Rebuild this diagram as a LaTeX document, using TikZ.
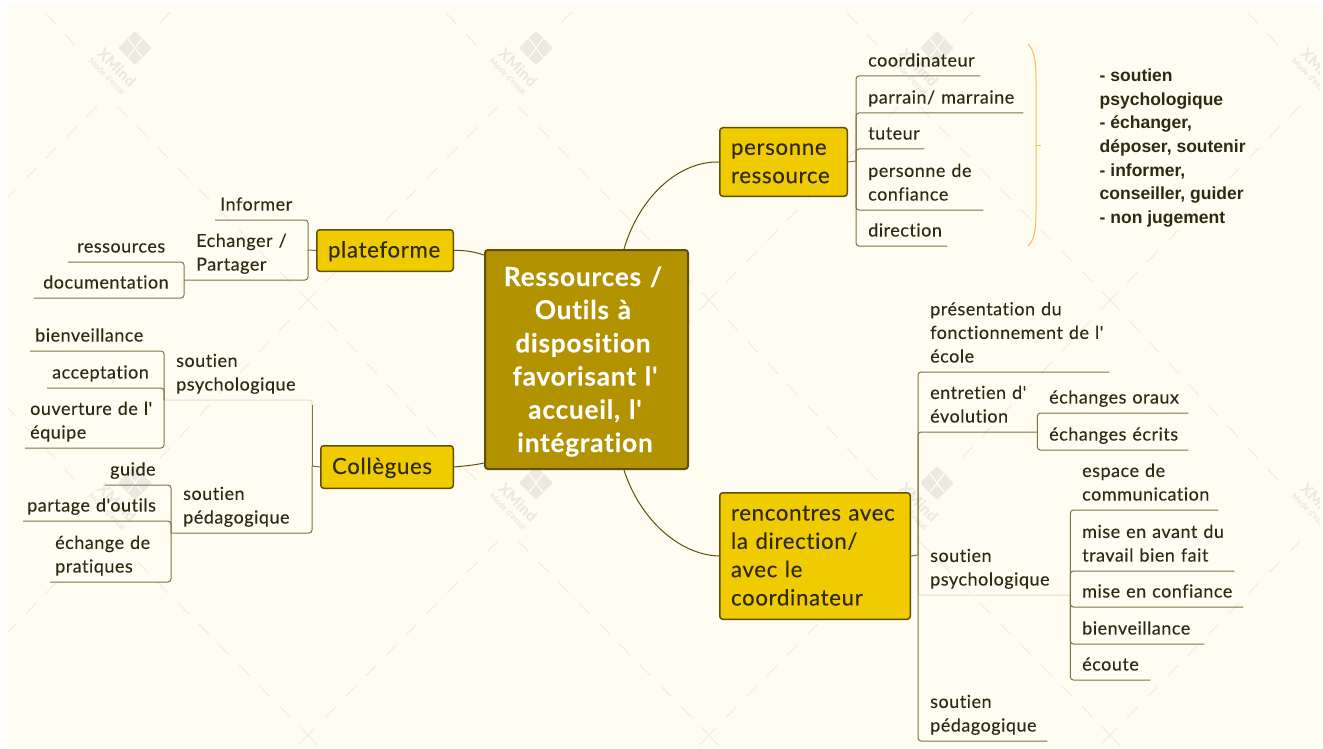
\documentclass[tikz,border=0pt]{standalone}
\usepackage{fontspec}
\setmainfont{Lato}[LetterSpace=2.8,Ligatures={TeXOff,NoCommon},FakeBold=0.12]
\newfontfamily\boldarial{Liberation Sans}[Ligatures=TeXOff]
\definecolor{paper}{HTML}{FFFCF1}
\definecolor{wm}{HTML}{EFEDE1}
\definecolor{wmtext}{HTML}{ECEAE0}
\definecolor{gold}{HTML}{EFCB00}
\definecolor{goldline}{HTML}{5F5008}
\definecolor{olive}{HTML}{B39200}
\definecolor{ink}{HTML}{2E2A12}
\definecolor{conn}{HTML}{7F7440}
\definecolor{connfaint}{HTML}{E4DFC6}
\definecolor{bracecol}{HTML}{FFBB55}
\tikzset{
  topic/.style={inner ysep=2.2pt,inner xsep=0pt,anchor=south west,align=left,text=ink,
    font=\fontsize{18}{23.6}\selectfont,execute at begin node=\strut,execute at end node=\strut},
  boxed/.style={draw=goldline,line width=1.5pt,fill=gold,rounded corners=3pt,anchor=north west,
    align=left,text=ink,inner xsep=11.25pt,inner ysep=0pt,font=\fontsize{22.3}{28.3}\selectfont,
    execute at begin node={\rule[0pt]{0pt}{20pt}},execute at end node={\rule[-6pt]{0pt}{0pt}}},
  central/.style={draw=goldline,line width=2pt,fill=olive,rounded corners=3pt,anchor=north west,
    align=center,text=white,inner sep=0pt,font=\fontsize{26.3}{33.2}\selectfont\bfseries,
    execute at begin node={\rule[0pt]{0pt}{25pt}},execute at end node={\rule[-6pt]{0pt}{0pt}}},
  link/.style={draw=conn,line width=1pt,rounded corners=3pt},
  faintlink/.style={draw=connfaint,line width=1pt,rounded corners=3pt},
  curve/.style={draw=goldline,line width=1pt},
  wmline/.style={draw=wm,line width=1pt,dash pattern=on 15pt off 14pt},
}
\newcommand{\tr}[6][]{\node[topic,text width=#5pt,#1] (#2) at (#3,#4) {#6};}
\newcommand{\tl}[6][]{\pgfmathsetmacro{\sepx}{#4-#3}\node[topic,inner xsep=\sepx pt,text width=170pt,#1] (#2) at (#3,#5) {#6};}
\begin{document}
\begin{tikzpicture}[x=1pt,y=-1pt]
\useasboundingbox (0,0) rectangle (1323,749);
\fill[white] (0,0) rectangle (1323,749);
\fill[paper] (8,5) rectangle (1320,749);
% watermark
\begin{scope}
\clip (8,5) rectangle (1320,749);
\foreach \lx in {-266,135,536,937,1338}{
 \foreach \ly in {48,483,918}{
  \begin{scope}[shift={(\lx,\ly)}]
   \coordinate (wa) at (-18,58); \coordinate (wb) at (173,252);
   \coordinate (wc) at (-38,58); \coordinate (wd) at (-228,252);
   \coordinate (we) at (-60,-3); \coordinate (wf) at (-228,-183);
   \coordinate (wg) at (25,-25); \coordinate (wh) at (173,-183);
   \draw[wmline] (wa) -- (wb);
   \draw[wmline] (wc) -- (wd);
   \draw[wmline] (we) -- (wf);
   \draw[wmline] (wg) -- (wh);
   \node[fill=wmtext,rounded corners=2pt,minimum size=24pt,rotate=45,inner sep=0pt] (wlogo) at (0,0) {};
   \draw[white,line width=1pt] (-7,-9) .. controls (-1,-2) and (1,2) .. (7,9);
   \draw[white,line width=1pt] (7,-9) .. controls (1,-2) and (-1,2) .. (-7,9);
   \node[text=wmtext,rotate=-45,font=\fontsize{15}{15}\selectfont\bfseries,inner sep=0pt] (wname) at (-18,19) {XMind};
   \node[text=wmtext,rotate=-45,font=\fontsize{8}{8}\selectfont,inner sep=0pt] (wsub) at (-28,28) {Mode d'essai};
  \end{scope}
 }
}
\end{scope}

% main boxes
\node[central,minimum height=219pt,text width=203pt] (root) at (484,249)
 {\hspace*{-7pt}Ressources /\\\hspace*{-7pt}Outils à\\\hspace*{-7pt}disposition\\\hspace*{-3pt}favorisant l'\\\hspace*{-3pt}accueil, l'\\\hspace*{-3pt}intégration};
\node[boxed,minimum height=41.5pt,text width=114pt] (plat) at (316,229) {plateforme};
\node[boxed,minimum height=42.5pt,text width=110pt] (coll) at (320,445) {Collègues};
\node[boxed,minimum height=68.5pt,text width=105pt] (pers) at (719,127) {personne\\ressource};
\node[boxed,minimum height=126.5pt,text width=168pt] (renc) at (719,492) {rencontres avec\\la direction/\\avec le\\coordinateur};

% central curves
\draw[curve] (plat.east) .. controls (465,250) and (475,252) .. (root.west |- 0,255);
\draw[curve] (coll.east) .. controls (465,466) and (475,465) .. (root.west |- 0,463);
\draw[curve] (root.north -| 624,0) .. controls (640,195) and (680,161) .. (pers.west);
\draw[curve] (root.south -| 624,0) .. controls (640,520) and (680,555) .. (renc.west);

% plateforme branch
\tl{inf}{215}{220}{220}{Informer}
\tl{ech}{184}{196}{280}{Echanger /\\Partager}
\tl{res}{68}{77}{262}{ressources}
\tl{doc}{34}{43}{298}{documentation}
\coordinate (jplat) at (308,250);
\draw[link] (plat.west) -- (jplat);
\draw[link] (jplat) |- (inf.south west);
\draw[link] (jplat) |- (ech.south west);
\draw[link] (ech.south west) |- (res.south west);
\draw[link] (ech.south west) |- (doc.south west);

% collegues branch
\tl{spg}{164}{176}{400}{soutien\\psychologique}
\tl{pdg}{171}{183}{533}{soutien\\pédagogique}
\tl{bvg}{30}{35}{351}{bienveillance}
\tl{acc}{47}{52}{388}{acceptation}
\tl{ouv}{25}{30}{448}{ouverture de l'\\équipe}
\tl{gui}{105}{110}{485}{guide}
\tl{par}{23}{27}{521}{partage d'outils}
\tl{ecp}{50}{55}{582}{échange de\\pratiques}
\coordinate (jcoll) at (312,466);
\draw[link] (coll.west) -- (jcoll);
\draw[faintlink] (jcoll) |- (spg.south west);
\draw[link] (jcoll) -- (312,405);
\draw[link] (jcoll) |- (pdg.south west);
\draw[link] (spg.south west) |- (bvg.south west);
\draw[link] (spg.south west) |- (acc.south west);
\draw[link] (spg.south west) |- (ouv.south west);
\draw[link] (pdg.south west) |- (gui.south west);
\draw[link] (pdg.south west) |- (par.south west);
\draw[link] (pdg.south west) |- (ecp.south west);

% personne ressource branch
\tr{coo}{868}{76}{112}{coordinateur}
\tr{prr}{868}{113}{155}{parrain/ marraine}
\tr{tut}{868}{149}{56}{tuteur}
\tr{pdc}{868}{210}{115}{personne de\\confiance}
\tr{dir}{868}{246}{79}{direction}
\coordinate (jpers) at (856,161);
\draw[link] (pers.east) -- (jpers);
\draw[link] (jpers) |- (coo.south east);
\draw[link] (jpers) |- (prr.south east);
\draw[link] (jpers) |- (tut.south east);
\draw[link] (jpers) |- (pdc.south east);
\draw[link] (jpers) |- (dir.south east);

% summary brace
\coordinate (bt) at (1028,44);
\coordinate (bb) at (1028,246);
\coordinate (bm) at (1041,146);
\draw[bracecol,line width=1pt] (bt) .. controls (1034,50) and (1036,60) .. (1036,80) -- (1036,210) .. controls (1036,232) and (1034,240) .. (bb);
\draw[bracecol,line width=1pt] (1036,146) -- (bm);
\node[anchor=north west,align=left,inner sep=0pt,text=ink,font=\boldarial\fontsize{17.5}{23.7}\selectfont\bfseries,
  execute at begin node=\strut] (sum) at (1099.5,68.5)
 {- soutien\\psychologique\\- échanger,\\déposer, soutenir\\- informer,\\conseiller, guider\\- non jugement};

% rencontres branch
\tr{pre}{930}{372}{179}{présentation du\\fonctionnement de l'\\école}
\tr{ent}{930}{432}{107}{entretien d'\\évolution}
\tr{spr}{930}{595}{140}{soutien\\psychologique}
\tr{pdr}{930}{741}{117}{soutien\\pédagogique}
\tr{ora}{1049}{413}{139}{échanges oraux}
\tr{ecr}{1049}{450}{139}{échanges écrits}
\tr{esp}{1082}{510}{136}{espace de\\communication}
\tr{mav}{1082}{571}{152}{mise en avant du\\travail bien fait}
\tr{mco}{1082}{607}{161}{mise en confiance}
\tr{bvr}{1082}{644}{122}{bienveillance}
\tr{eco}{1082}{680}{68}{écoute}
\coordinate (jrenc) at (918,555);
\draw[link] (renc.east) -- (jrenc);
\draw[link] (jrenc) |- (pre.south east);
\draw[link] (jrenc) |- (ent.south east);
\draw[faintlink] (jrenc) |- (spr.south east);
\draw[link] (jrenc) |- (pdr.south east);
\draw[link] (ent.south east) |- (ora.south east);
\draw[link] (ent.south east) |- (ecr.south east);
\draw[link] (spr.south east) |- (esp.south east);
\draw[link] (spr.south east) |- (mav.south east);
\draw[link] (spr.south east) |- (mco.south east);
\draw[link] (spr.south east) |- (bvr.south east);
\draw[link] (spr.south east) |- (eco.south east);
\end{tikzpicture}
\end{document}
